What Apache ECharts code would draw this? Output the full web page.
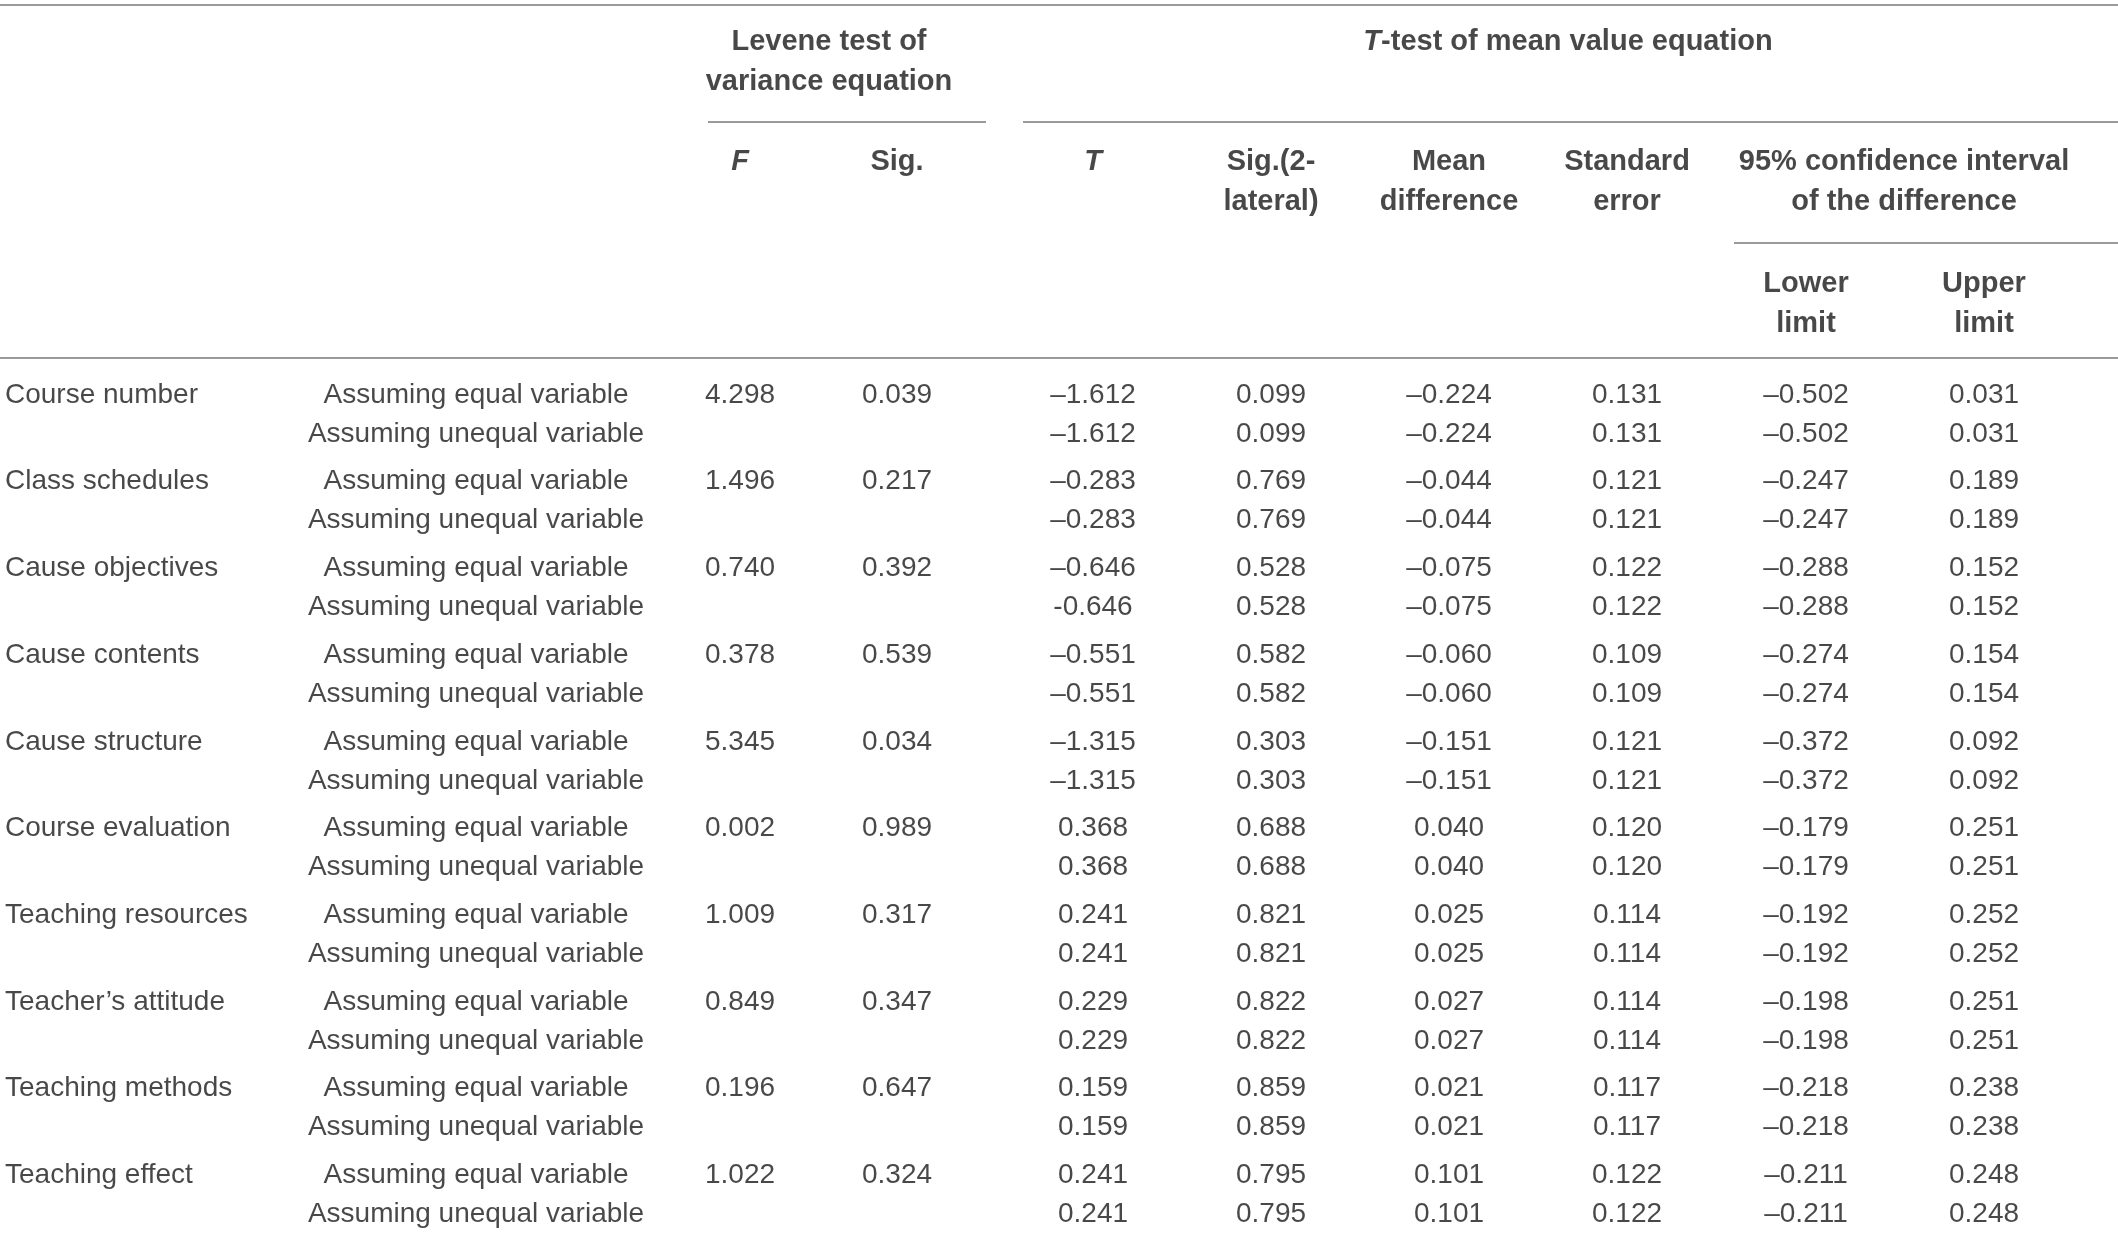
<!DOCTYPE html>
<html>
<head>
<meta charset="utf-8">
<script src="https://cdn.jsdelivr.net/npm/echarts@6/dist/echarts.min.js"></script>
<style>
html,body{margin:0;padding:0;background:#fff;}
#main{width:2118px;height:1235px;}
</style>
</head>
<body>
<div id="main"></div>
<script>
//表格数据（与原图一致）
var factors = ['Course number', 'Class schedules', 'Cause objectives', 'Cause contents', 'Cause structure',
  'Course evaluation', 'Teaching resources', 'Teacher\u2019s attitude', 'Teaching methods', 'Teaching effect'];
var rowTypes = ['Assuming equal variable', 'Assuming unequal variable'];
var leveneF = ['4.298', '1.496', '0.740', '0.378', '5.345', '0.002', '1.009', '0.849', '0.196', '1.022'];
var leveneSig = ['0.039', '0.217', '0.392', '0.539', '0.034', '0.989', '0.317', '0.347', '0.647', '0.324'];
var tEqual = ['\u20131.612', '\u20130.283', '\u20130.646', '\u20130.551', '\u20131.315', '0.368', '0.241', '0.229', '0.159', '0.241'];
var tUnequal = ['\u20131.612', '\u20130.283', '-0.646', '\u20130.551', '\u20131.315', '0.368', '0.241', '0.229', '0.159', '0.241'];
var sig2 = ['0.099', '0.769', '0.528', '0.582', '0.303', '0.688', '0.821', '0.822', '0.859', '0.795'];
var meanDiff = ['\u20130.224', '\u20130.044', '\u20130.075', '\u20130.060', '\u20130.151', '0.040', '0.025', '0.027', '0.021', '0.101'];
var stdErr = ['0.131', '0.121', '0.122', '0.109', '0.121', '0.120', '0.114', '0.114', '0.117', '0.122'];
var lowerLimit = ['\u20130.502', '\u20130.247', '\u20130.288', '\u20130.274', '\u20130.372', '\u20130.179', '\u20130.192', '\u20130.198', '\u20130.218', '\u20130.211'];
var upperLimit = ['0.031', '0.189', '0.152', '0.154', '0.092', '0.251', '0.252', '0.251', '0.238', '0.248'];

//版式
var W = 2118, H = 1235;
var FONT = 'Liberation Sans';
var TXT = '#1c1a1b';
var colX = {label: 5, type: 476, f: 740, sig: 897, t: 1093, sig2: 1271, mean: 1449, se: 1627, lower: 1806, upper: 1984};
function rowY(g, k) { return 395 + g * 86.7 + k * 39; }

//单元格
var leftCells = [], centerCells = [];
factors.forEach(function (name, g) {
  leftCells.push({name: name, value: [colX.label, rowY(g, 0)]});
  rowTypes.forEach(function (rt, k) {
    centerCells.push({name: rt, value: [colX.type, rowY(g, k)]});
  });
  centerCells.push({name: leveneF[g], value: [colX.f, rowY(g, 0)]});
  centerCells.push({name: leveneSig[g], value: [colX.sig, rowY(g, 0)]});
  [tEqual, tUnequal].forEach(function (arr, k) {
    centerCells.push({name: arr[g], value: [colX.t, rowY(g, k)]});
  });
  [0, 1].forEach(function (k) {
    centerCells.push({name: sig2[g], value: [colX.sig2, rowY(g, k)]});
    centerCells.push({name: meanDiff[g], value: [colX.mean, rowY(g, k)]});
    centerCells.push({name: stdErr[g], value: [colX.se, rowY(g, k)]});
    centerCells.push({name: lowerLimit[g], value: [colX.lower, rowY(g, k)]});
    centerCells.push({name: upperLimit[g], value: [colX.upper, rowY(g, k)]});
  });
});

//表头
var headers = [
  {name: 'Levene test of\nvariance equation', value: [829, 62]},
  {name: '{i|T}-test of mean value equation', value: [1568, 42]},
  {name: '{i|F}', value: [colX.f, 162]},
  {name: 'Sig.', value: [colX.sig, 162]},
  {name: '{i|T}', value: [colX.t, 162]},
  {name: 'Sig.(2-\nlateral)', value: [colX.sig2, 182]},
  {name: 'Mean\ndifference', value: [colX.mean, 182]},
  {name: 'Standard\nerror', value: [colX.se, 182]},
  {name: '95% confidence interval\nof the difference', value: [1904, 182]},
  {name: 'Lower\nlimit', value: [colX.lower, 304]},
  {name: 'Upper\nlimit', value: [colX.upper, 304]}
];

//横线
var rules = [
  {coords: [[0, 5], [W, 5]]},
  {coords: [[708, 122], [986, 122]]},
  {coords: [[1023, 122], [W, 122]]},
  {coords: [[1734, 243], [W, 243]]},
  {coords: [[0, 358], [W, 358]]}
];

function textSeries(data, align, bold) {
  var size = bold ? 29 : 28;
  return {
    type: 'scatter',
    silent: true,
    symbolSize: 1,
    itemStyle: {color: 'rgba(0,0,0,0)'},
    data: data,
    label: {
      show: true,
      position: 'inside',
      align: align,
      verticalAlign: 'middle',
      formatter: function (p) { return p.name; },
      fontFamily: FONT,
      fontSize: size,
      fontWeight: bold ? 'bold' : 'normal',
      color: TXT,
      lineHeight: 40,
      rich: {
        i: {fontFamily: FONT, fontSize: size, fontWeight: 'bold', fontStyle: 'italic', color: TXT, lineHeight: 40}
      }
    }
  };
}

var myChart = echarts.init(document.getElementById('main'));
var option = {
  animation: false,
  backgroundColor: '#fff',
  grid: {left: 0, right: 0, top: 0, bottom: 0},
  xAxis: {type: 'value', min: 0, max: W, show: false},
  yAxis: {type: 'value', min: 0, max: H, inverse: true, show: false},
  series: [
    {
      type: 'lines',
      coordinateSystem: 'cartesian2d',
      silent: true,
      lineStyle: {color: '#9a9a9a', width: 2, opacity: 1},
      data: rules
    },
    textSeries(leftCells, 'left', false),
    textSeries(centerCells, 'center', false),
    textSeries(headers, 'center', true)
  ]
};
myChart.setOption(option);
</script>
</body>
</html>
